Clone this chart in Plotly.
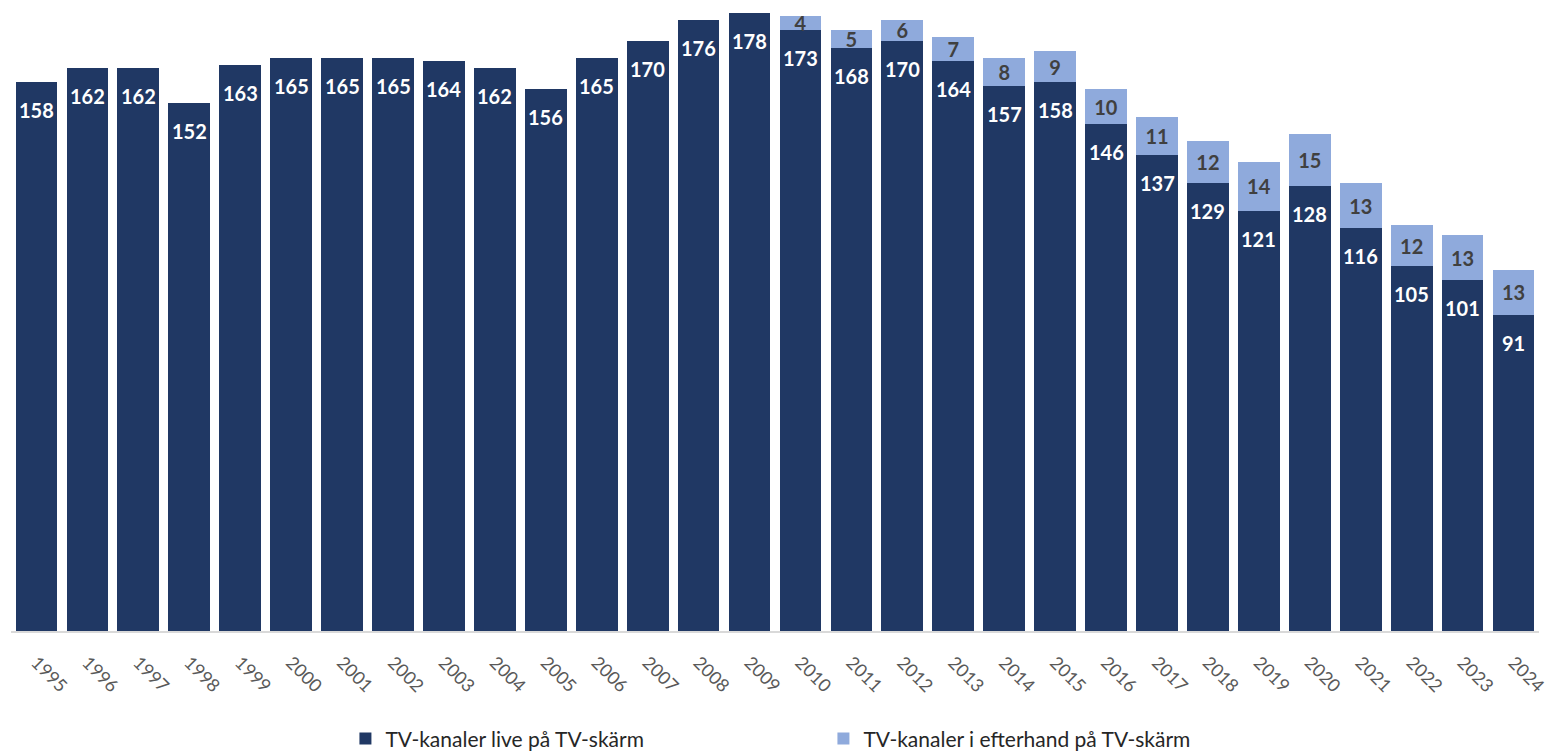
import plotly.graph_objects as go

years = [str(y) for y in range(1995, 2025)]
live = [158, 162, 162, 152, 163, 165, 165, 165, 164, 162, 156, 165, 170, 176, 178,
        173, 168, 170, 164, 157, 158, 146, 137, 129, 121, 128, 116, 105, 101, 91]
afterwards = [None] * 15 + [4, 5, 6, 7, 8, 9, 10, 11, 12, 14, 15, 13, 12, 13, 13]

DARK = "#203864"
LIGHT = "#8FAADC"
FONT = "Lato"

fig = go.Figure()
fig.add_bar(
    x=years, y=live, name="TV-kanaler live på TV-skärm",
    marker=dict(color=DARK, line=dict(width=0)),
)
fig.add_bar(
    x=years, y=afterwards, name="TV-kanaler i efterhand på TV-skärm",
    marker=dict(color=LIGHT, line=dict(width=0)),
    text=[("" if v is None else str(v)) for v in afterwards],
    textposition="inside", insidetextanchor="middle", textangle=0,
    textfont=dict(family=FONT, size=20, color="#404040", weight="bold"),
)

# value labels near the top of the live segments (x given as category index)
for i, v in enumerate(live):
    fig.add_annotation(
        x=i, y=v, xref="x", yref="y", text=f"<b>{v}</b>", showarrow=False,
        yanchor="middle", yshift=-28,
        font=dict(family=FONT, size=20, color="white"),
    )

fig.update_layout(
    barmode="stack",
    bargap=0.18,
    width=1549, height=756,
    margin=dict(l=11, r=10, t=0, b=125, autoexpand=False),
    plot_bgcolor="white", paper_bgcolor="white",
    uniformtext=dict(minsize=20, mode="show"),
    font=dict(family=FONT),
    showlegend=True,
    legend=dict(
        orientation="h", xref="container", yref="paper",
        x=0.223, y=-0.171, xanchor="left", yanchor="middle",
        entrywidth=433, entrywidthmode="pixels",
        font=dict(family=FONT, size=21, color="#262626"),
        itemwidth=30, traceorder="normal",
    ),
    xaxis=dict(
        type="category", range=[-0.5, len(years) - 0.5], automargin=False,
        tickangle=45, showgrid=False, showline=True, linecolor="#D9D9D9", linewidth=2,
        ticks="", ticklabelstandoff=12,
        tickfont=dict(family=FONT, size=18, color="#595959"),
    ),
    yaxis=dict(visible=False, range=[0, 181.7]),
)

fig.write_html("out.html")
